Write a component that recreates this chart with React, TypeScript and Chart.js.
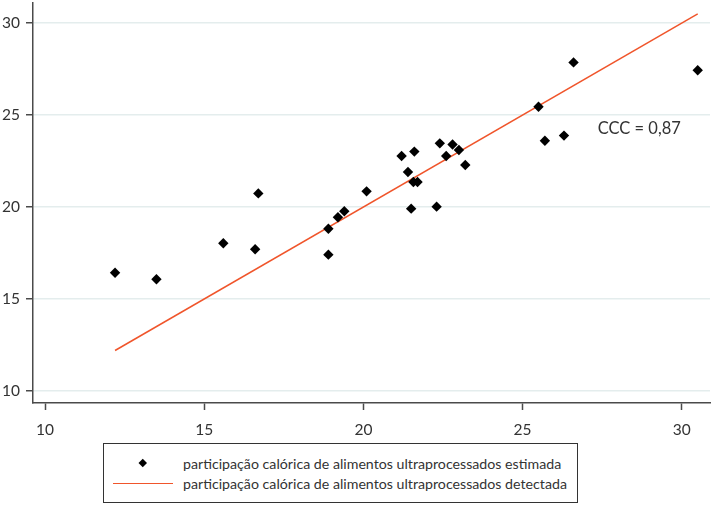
import React, { useRef, useEffect } from "react";
import { Chart, registerables } from "chart.js";

Chart.register(...registerables);

// estimated vs detected share (%)
const detectedX = [
  12.2, 13.5, 15.6, 16.6, 16.7, 18.9, 18.9, 19.2, 19.4, 20.1, 21.2, 21.6, 21.4,
  21.57, 21.7, 21.5, 22.3, 22.4, 22.6, 22.8, 23.0, 23.2, 25.5, 25.7, 26.3, 26.6, 30.5,
];
const estimatedY = [
  16.43, 16.07, 18.03, 17.7, 20.74, 18.82, 17.41, 19.44, 19.77, 20.85, 22.77, 23.01, 21.9,
  21.36, 21.36, 19.91, 20.02, 23.46, 22.77, 23.4, 23.1, 22.28, 25.45, 23.6, 23.88, 27.86, 27.43,
];
const lineX = [12.2, 30.5];
const lineY = [12.2, 30.5];
const xTicks = [10, 15, 20, 25, 30];
const yTicks = [10, 15, 20, 25, 30];
const cccLabel = "CCC = 0,87";
const legendLabels = [
  "participação calórica de alimentos ultraprocessados estimada",
  "participação calórica de alimentos ultraprocessados detectada",
];

const FONT = "Lato, 'Open Sans', sans-serif";
const AXIS = "#4a4a4a";
const RED = "#f0552b";

const cccPlugin = {
  id: "ccc",
  afterDatasetsDraw(chart: Chart) {
    const { ctx, scales } = chart;
    const x = scales.x.getPixelForValue(27.36);
    const y = scales.y.getPixelForValue(24.28);
    ctx.save();
    ctx.font = `16.5px ${FONT}`;
    ctx.fillStyle = "#333";
    ctx.textAlign = "left";
    ctx.textBaseline = "middle";
    ctx.fillText(cccLabel, x, y);
    ctx.restore();
  },
};

export default function App() {
  const canvasRef = useRef<HTMLCanvasElement | null>(null);

  useEffect(() => {
    if (!canvasRef.current) return;
    const chart = new Chart(canvasRef.current, {
      type: "scatter",
      data: {
        datasets: [
          {
            label: legendLabels[0],
            data: detectedX.map((x, i) => ({ x, y: estimatedY[i] })),
            pointStyle: "rectRot",
            pointRadius: 5.2,
            backgroundColor: "#000",
            borderColor: "#000",
            borderWidth: 0,
          },
          {
            type: "line",
            label: legendLabels[1],
            data: lineX.map((x, i) => ({ x, y: lineY[i] })),
            borderColor: RED,
            borderWidth: 1.5,
            pointRadius: 0,
            fill: false,
          } as any,
        ],
      },
      options: {
        animation: false,
        responsive: false,
        layout: { autoPadding: false, padding: { left: 0, right: 2, top: 3, bottom: 3 } },
        plugins: {
          legend: { display: false },
          tooltip: { enabled: false },
        },
        scales: {
          x: {
            type: "linear",
            min: 9.623,
            max: 30.886,
            afterBuildTicks: (axis: any) => {
              axis.ticks = xTicks.map((v) => ({ value: v }));
            },
            afterFit: (axis: any) => {
              axis.paddingLeft = 0;
              axis.paddingRight = 0;
              axis.height = 34;
            },
            border: { color: AXIS, width: 1.5 },
            grid: { drawOnChartArea: false, tickLength: 7, tickColor: AXIS, tickWidth: 1.5 },
            ticks: { color: "#333", padding: 11, font: { family: FONT, size: 15.5 } },
          },
          y: {
            type: "linear",
            min: 9.348,
            max: 31.087,
            afterBuildTicks: (axis: any) => {
              axis.ticks = yTicks.map((v) => ({ value: v }));
            },
            afterFit: (axis: any) => {
              axis.paddingTop = 0;
              axis.paddingBottom = 0;
              axis.width = 33;
            },
            border: { color: AXIS, width: 1.5 },
            grid: { color: "#e4eded", lineWidth: 1.5, tickLength: 7, tickColor: AXIS, tickWidth: 1.5 },
            ticks: { color: "#333", padding: 6, font: { family: FONT, size: 15.5 } },
          },
        },
      },
      plugins: [cccPlugin],
    });
    return () => chart.destroy();
  }, []);

  return (
    <div
      style={{
        position: "fixed",
        left: 0,
        top: 0,
        width: 712,
        height: 506,
        background: "#fff",
        fontFamily: FONT,
      }}
    >
      <canvas ref={canvasRef} width={712} height={440} style={{ display: "block" }} />
      <div
        style={{
          position: "absolute",
          left: 103,
          top: 443,
          width: 473,
          height: 58,
          border: "1px solid #333",
          boxSizing: "content-box",
          fontSize: 14.2,
          color: "#333",
        }}
      >
        {legendLabels.map((label, i) => (
          <div
            key={label}
            style={{
              position: "absolute",
              left: 0,
              top: i === 0 ? 9 : 29.5,
              height: 20,
              display: "flex",
              alignItems: "center",
              whiteSpace: "nowrap",
            }}
          >
            <div style={{ width: 60, marginLeft: 9, display: "flex", justifyContent: "center" }}>
              {i === 0 ? (
                <div style={{ width: 5.5, height: 5.5, background: "#000", transform: "rotate(45deg)" }} />
              ) : (
                <div style={{ width: 60, height: 1.5, background: RED }} />
              )}
            </div>
            <span style={{ marginLeft: 10 }}>{label}</span>
          </div>
        ))}
      </div>
    </div>
  );
}
